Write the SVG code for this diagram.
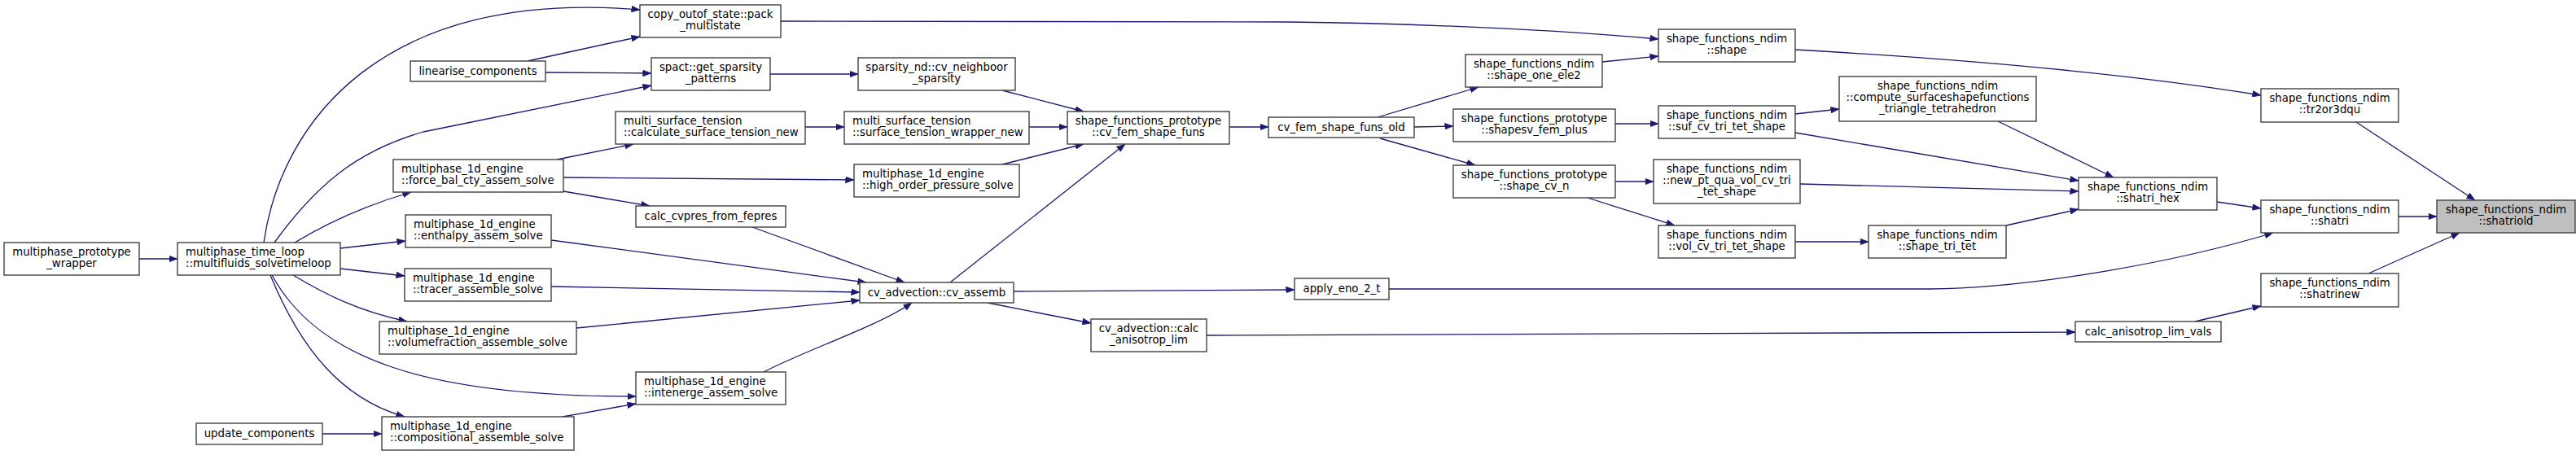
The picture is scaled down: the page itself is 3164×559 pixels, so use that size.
<svg xmlns="http://www.w3.org/2000/svg" width="3164" height="559" viewBox="0 0 3164 559">
<defs>
<marker id="ah" markerUnits="userSpaceOnUse" markerWidth="11" markerHeight="8" refX="10.5" refY="4" orient="auto">
<path d="M0,0 L10.5,4 L0,8 z" fill="#191970" stroke="#191970" stroke-width="0.5"/>
</marker>
<style>
.n rect{fill:#fff;stroke:#404040;stroke-width:1.4}
.n.hl rect{fill:#bfbfbf}
.n text{font-family:"DejaVu Sans","Liberation Sans",sans-serif;font-size:13.3px;fill:#000}
.c{text-anchor:middle}
.e path{fill:none;stroke:#191970;stroke-width:1.3;marker-end:url(#ah)}
</style>
</defs>
<rect width="3164" height="559" fill="#fff"/>
<g id="edges" class="e">
<path d="M171,318 L218,318"/>
<path d="M324,298 C345,150 470,-15 786,12"/>
<path d="M337,298 C390,225 440,185 520,162 L800,105"/>
<path d="M362,298 C400,275 450,252 505,236"/>
<path d="M418,305 L498,296"/>
<path d="M418,330 L497,339"/>
<path d="M360,338 C400,362 440,382 500,395"/>
<path d="M334,338 C390,440 520,487 781,487"/>
<path d="M332,338 C370,430 420,490 497,512"/>
<path d="M396,533 L469,533"/>
<path d="M691,512 L781,496"/>
<path d="M648,75 L786,45"/>
<path d="M670,89 L800,90"/>
<path d="M684,196 L778,177"/>
<path d="M692,218 L1049,221"/>
<path d="M692,235 L798,253"/>
<path d="M677,295 L1064,347"/>
<path d="M677,352 L1056,359"/>
<path d="M708,403 L1056,369"/>
<path d="M938,457 C990,430 1080,400 1120,372"/>
<path d="M924,279 L1111,347"/>
<path d="M1167,347 L1382,177"/>
<path d="M1245,358 L1590,356"/>
<path d="M1213,372 L1340,397"/>
<path d="M1482,412 L2549,408"/>
<path d="M946,91 L1054,91"/>
<path d="M989,156 L1037,156"/>
<path d="M1231,111 L1331,137"/>
<path d="M1264,156 L1311,156"/>
<path d="M1231,202 L1331,177"/>
<path d="M1510,156 L1558,156"/>
<path d="M959,26 L1580,27 C1750,29 1900,36 2037,48"/>
<path d="M1692,144 L1816,107"/>
<path d="M1737,156 L1785,155"/>
<path d="M1695,170 L1812,203"/>
<path d="M1968,76 L2037,69"/>
<path d="M1984,152 L2037,152"/>
<path d="M1984,223 L2031,223"/>
<path d="M1950,243 L2057,277"/>
<path d="M2205,297 L2295,297"/>
<path d="M2205,61 C2400,72 2600,88 2777,117"/>
<path d="M2205,140 L2259,134"/>
<path d="M2205,163 L2553,222"/>
<path d="M2211,226 C2350,229 2450,232 2553,235"/>
<path d="M2464,277 L2553,257"/>
<path d="M2454,149 L2596,218"/>
<path d="M2723,248 L2777,256"/>
<path d="M1706,355 L2370,355 C2500,354 2680,320 2792,286"/>
<path d="M2894,150 L3040,246"/>
<path d="M2946,266 L2993,266"/>
<path d="M2909,336 L3021,286"/>
<path d="M2696,395 L2777,376"/>
</g>
<g id="n1" class="n"><rect x="5" y="298" width="166" height="40"/><text class="c" x="88" y="314">multiphase_prototype</text><text class="c" x="88" y="328">_wrapper</text></g>
<g id="n2" class="n"><rect x="218" y="298" width="200" height="40"/><text x="228" y="314">multiphase_time_loop</text><text x="228" y="328">::multifluids_solvetimeloop</text></g>
<g id="n3" class="n"><rect x="504" y="75" width="166" height="25"/><text class="c" x="587" y="92">linearise_components</text></g>
<g id="n4" class="n"><rect x="241" y="520" width="155" height="26"/><text class="c" x="318.5" y="537">update_components</text></g>
<g id="n5" class="n"><rect x="483" y="196" width="209" height="40"/><text x="493" y="212">multiphase_1d_engine</text><text x="493" y="226">::force_bal_cty_assem_solve</text></g>
<g id="n6" class="n"><rect x="498" y="264" width="179" height="40"/><text x="508" y="280">multiphase_1d_engine</text><text x="508" y="294">::enthalpy_assem_solve</text></g>
<g id="n7" class="n"><rect x="497" y="330" width="180" height="40"/><text x="507" y="346">multiphase_1d_engine</text><text x="507" y="360">::tracer_assemble_solve</text></g>
<g id="n8" class="n"><rect x="466" y="395" width="242" height="40"/><text x="476" y="411">multiphase_1d_engine</text><text x="476" y="425">::volumefraction_assemble_solve</text></g>
<g id="n9" class="n"><rect x="469" y="512" width="236" height="41"/><text x="479" y="528">multiphase_1d_engine</text><text x="479" y="542">::compositional_assemble_solve</text></g>
<g id="n10" class="n"><rect x="786" y="6" width="173" height="40"/><text class="c" x="872.5" y="22">copy_outof_state::pack</text><text class="c" x="872.5" y="36">_multistate</text></g>
<g id="n11" class="n"><rect x="800" y="71" width="146" height="40"/><text class="c" x="873" y="87">spact::get_sparsity</text><text class="c" x="873" y="101">_patterns</text></g>
<g id="n12" class="n"><rect x="756" y="137" width="233" height="40"/><text x="766" y="153">multi_surface_tension</text><text x="766" y="167">::calculate_surface_tension_new</text></g>
<g id="n13" class="n"><rect x="781" y="253" width="184" height="26"/><text class="c" x="873" y="270">calc_cvpres_from_fepres</text></g>
<g id="n14" class="n"><rect x="781" y="457" width="184" height="40"/><text x="791" y="473">multiphase_1d_engine</text><text x="791" y="487">::intenerge_assem_solve</text></g>
<g id="n15" class="n"><rect x="1054" y="71" width="193" height="40"/><text class="c" x="1150.5" y="87">sparsity_nd::cv_neighboor</text><text class="c" x="1150.5" y="101">_sparsity</text></g>
<g id="n16" class="n"><rect x="1037" y="137" width="227" height="40"/><text x="1047" y="153">multi_surface_tension</text><text x="1047" y="167">::surface_tension_wrapper_new</text></g>
<g id="n17" class="n"><rect x="1049" y="202" width="203" height="40"/><text x="1059" y="218">multiphase_1d_engine</text><text x="1059" y="232">::high_order_pressure_solve</text></g>
<g id="n18" class="n"><rect x="1056" y="347" width="189" height="25"/><text class="c" x="1150.5" y="364">cv_advection::cv_assemb</text></g>
<g id="n19" class="n"><rect x="1311" y="137" width="199" height="40"/><text class="c" x="1410.5" y="153">shape_functions_prototype</text><text class="c" x="1410.5" y="167">::cv_fem_shape_funs</text></g>
<g id="n20" class="n"><rect x="1340" y="392" width="142" height="40"/><text class="c" x="1411" y="408">cv_advection::calc</text><text class="c" x="1411" y="422">_anisotrop_lim</text></g>
<g id="n21" class="n"><rect x="1558" y="144" width="179" height="25"/><text class="c" x="1647.5" y="161">cv_fem_shape_funs_old</text></g>
<g id="n22" class="n"><rect x="1590" y="342" width="116" height="26"/><text class="c" x="1648" y="359">apply_eno_2_t</text></g>
<g id="n23" class="n"><rect x="1800" y="67" width="168" height="40"/><text class="c" x="1884" y="83">shape_functions_ndim</text><text class="c" x="1884" y="97">::shape_one_ele2</text></g>
<g id="n24" class="n"><rect x="1785" y="134" width="199" height="40"/><text class="c" x="1884.5" y="150">shape_functions_prototype</text><text class="c" x="1884.5" y="164">::shapesv_fem_plus</text></g>
<g id="n25" class="n"><rect x="1785" y="203" width="199" height="40"/><text class="c" x="1884.5" y="219">shape_functions_prototype</text><text class="c" x="1884.5" y="233">::shape_cv_n</text></g>
<g id="n26" class="n"><rect x="2037" y="36" width="168" height="40"/><text class="c" x="2121" y="52">shape_functions_ndim</text><text class="c" x="2121" y="66">::shape</text></g>
<g id="n27" class="n"><rect x="2037" y="130" width="168" height="40"/><text class="c" x="2121" y="146">shape_functions_ndim</text><text class="c" x="2121" y="160">::suf_cv_tri_tet_shape</text></g>
<g id="n28" class="n"><rect x="2031" y="196" width="180" height="54"/><text class="c" x="2121" y="212">shape_functions_ndim</text><text class="c" x="2121" y="226">::new_pt_qua_vol_cv_tri</text><text class="c" x="2121" y="240">_tet_shape</text></g>
<g id="n29" class="n"><rect x="2037" y="277" width="168" height="40"/><text class="c" x="2121" y="293">shape_functions_ndim</text><text class="c" x="2121" y="307">::vol_cv_tri_tet_shape</text></g>
<g id="n30" class="n"><rect x="2295" y="277" width="169" height="40"/><text class="c" x="2379.5" y="293">shape_functions_ndim</text><text class="c" x="2379.5" y="307">::shape_tri_tet</text></g>
<g id="n31" class="n"><rect x="2259" y="94" width="242" height="55"/><text class="c" x="2380" y="110">shape_functions_ndim</text><text class="c" x="2380" y="124">::compute_surfaceshapefunctions</text><text class="c" x="2380" y="138">_triangle_tetrahedron</text></g>
<g id="n32" class="n"><rect x="2553" y="218" width="170" height="40"/><text class="c" x="2638" y="234">shape_functions_ndim</text><text class="c" x="2638" y="248">::shatri_hex</text></g>
<g id="n33" class="n"><rect x="2777" y="109" width="169" height="41"/><text class="c" x="2861.5" y="125">shape_functions_ndim</text><text class="c" x="2861.5" y="139">::tr2or3dqu</text></g>
<g id="n34" class="n"><rect x="2777" y="246" width="169" height="40"/><text class="c" x="2861.5" y="262">shape_functions_ndim</text><text class="c" x="2861.5" y="276">::shatri</text></g>
<g id="n35" class="n hl"><rect x="2993" y="246" width="170" height="40"/><text class="c" x="3078" y="262">shape_functions_ndim</text><text class="c" x="3078" y="276">::shatriold</text></g>
<g id="n36" class="n"><rect x="2777" y="336" width="169" height="41"/><text class="c" x="2861.5" y="352">shape_functions_ndim</text><text class="c" x="2861.5" y="366">::shatrinew</text></g>
<g id="n37" class="n"><rect x="2549" y="395" width="179" height="25"/><text class="c" x="2638.5" y="412">calc_anisotrop_lim_vals</text></g>
</svg>
